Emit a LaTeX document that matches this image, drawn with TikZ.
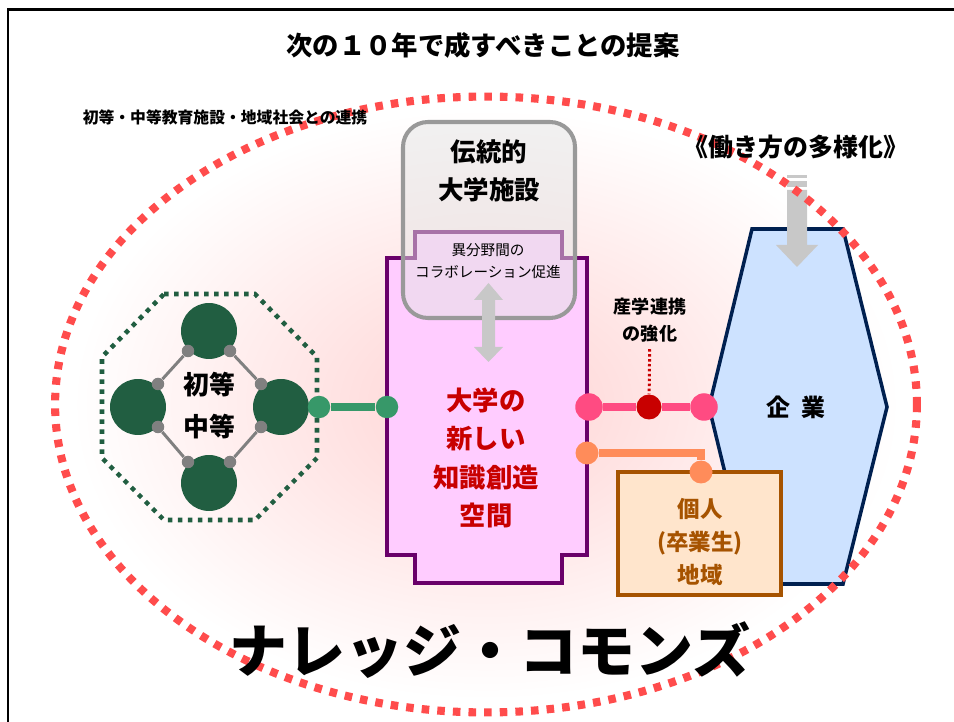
\documentclass[tikz,border=0pt]{standalone}
\usepackage{fontspec}
\setmainfont{Noto Sans CJK JP}
\usetikzlibrary{calc}
\definecolor{dotred}{RGB}{255,76,76}
\definecolor{leafgreen}{RGB}{33,94,65}
\definecolor{jointgray}{RGB}{128,128,128}
\definecolor{linkgreen}{RGB}{55,152,105}
\definecolor{linkpink}{RGB}{255,75,130}
\definecolor{deepred}{RGB}{200,0,0}
\definecolor{linkorange}{RGB}{255,140,90}
\definecolor{univpurple}{RGB}{106,0,106}
\definecolor{univfill}{RGB}{255,204,255}
\definecolor{oldgray}{RGB}{153,153,153}
\definecolor{arrowgray}{RGB}{200,200,200}
\definecolor{firmblue}{RGB}{205,226,255}
\definecolor{firmnavy}{RGB}{0,32,80}
\definecolor{alumbrown}{RGB}{166,83,0}
\definecolor{alumfill}{RGB}{255,229,204}
\definecolor{glowpink}{RGB}{255,220,220}
\newcommand\jp[2]{\bfseries\fontsize{#1}{#2}\selectfont}
\pgfdeclareradialshading{glow}{\pgfpoint{0bp}{0bp}}{color(0bp)=(glowpink); color(5bp)=(glowpink); color(24bp)=(white); color(50bp)=(white)}
\tikzset{
  ring/.style={dotred,line width=4.6pt,dash pattern=on 4.3pt off 4.6pt},
  octo/.style={leafgreen,line width=2.6pt,dash pattern=on 2.6pt off 3.1pt},
  ball/.style={circle,fill=leafgreen,inner sep=0pt,minimum size=1.12cm},
  joint/.style={circle,fill=jointgray,inner sep=0pt,minimum size=0.25cm},
  link/.style={jointgray,line width=1.7pt},
  knob/.style 2 args={circle,fill=#1,inner sep=0pt,minimum size=#2},
  txt/.style={inner sep=0pt,align=center}
}

\begin{document}
\begin{tikzpicture}[x=0.02cm,y=-0.02cm]
	%%%%% START %%%%%
	\useasboundingbox (0,0) rectangle (954,722);
	\draw[line width=1.7pt] (8,722) -- (8,10) -- (954,10);
	
	\node[txt,font=\jp{15}{18}] (title) at (483,45) {次の１０年で成すべきことの提案};
	
	\shade[shading=glow] (486,404.5) ellipse [x radius=8.62cm, y radius=6.16cm];
	
	% schools
	\draw[octo] (164,294) -- (255,294) -- (317,357) -- (317,458) -- (255,520) -- (164,520) -- (102,458) -- (102,357) -- cycle;
	\node[ball] (cN) at (209,331) {};
	\node[ball] (cW) at (138,407) {};
	\node[ball] (cE) at (281,407) {};
	\node[ball] (cS) at (209,483) {};
	\node[joint] (d1) at (188,351) {};
	\node[joint] (d2) at (230,351) {};
	\node[joint] (d3) at (261,384) {};
	\node[joint] (d4) at (261,427) {};
	\node[joint] (d5) at (230,462) {};
	\node[joint] (d6) at (188,462) {};
	\node[joint] (d7) at (158,427) {};
	\node[joint] (d8) at (158,384) {};
	\draw[link] (d1) -- (d8);
	\draw[link] (d2) -- (d3);
	\draw[link] (d4) -- (d5);
	\draw[link] (d6) -- (d7);
	\node[txt,font=\jp{14.7}{18}] (shoto) at (209,385) {初等};
	\node[txt,font=\jp{14.7}{18}] (chuto) at (209,427) {中等};
	
	% university
	\draw[univpurple,fill=univfill,line width=2.8pt] (387,258) -- (415,258) -- (415,232) -- (562,232) -- (562,258) -- (587,258) -- (587,555) -- (562,555) -- (562,583) -- (415,583) -- (415,555) -- (387,555) -- cycle;
	\draw[oldgray,line width=2.3pt,fill=black!10,fill opacity=0.5,rounded corners=0.5cm] (403,122) rectangle (575,318);
	\node[txt,font=\jp{14.5}{21.5}] (dento) at (489,171) {伝統的\\大学施設};
	\node[txt,font=\fontsize{8.3}{12.5}\selectfont] (collab) at (488,261) {異分野間の\\コラボレーション促進};
	\fill[arrowgray] (488.5,283) -- (503,300) -- (495,300) -- (495,347) -- (503,347) -- (488.5,362) -- (474,347) -- (482,347) -- (482,300) -- (474,300) -- cycle;
	\node[txt,font=\jp{15}{21.8},text=deepred] (chishiki) at (486,458) {大学の\\新しい\\知識創造\\空間};
	
	\node[knob={linkgreen}{0.45cm}] (gL) at (319,407) {};
	\node[knob={linkgreen}{0.45cm}] (gR) at (387,407) {};
	\draw[linkgreen,line width=4.5pt] (gL) -- (gR);
	
	% companies
	\draw[firmnavy,fill=firmblue,line width=2pt] (752,229) -- (843,229) -- (887,407) -- (843,584) -- (752,584) -- (709,407) -- cycle;
	\node[txt,font=\jp{13.6}{16}] (kigyo) at (796,407) {企\hspace{0.5em}業};
	\fill[arrowgray] (787,175) rectangle (807,178);
	\fill[arrowgray] (787,181) rectangle (807,187);
	\fill[arrowgray] (787,190) -- (807,190) -- (807,245) -- (818,245) -- (797,267) -- (776,245) -- (787,245) -- cycle;
	
	\node[txt,font=\jp{10.3}{15}] (sangaku) at (650,320) {産学連携\\の強化};
	\node[knob={linkpink}{0.55cm}] (pL) at (589,407) {};
	\node[knob={deepred}{0.5cm}] (pM) at (649,407) {};
	\node[knob={linkpink}{0.55cm}] (pR) at (704,407) {};
	\draw[linkpink,line width=4.5pt] (pL) -- (pM);
	\draw[linkpink,line width=4.5pt] (pM) -- (pR);
	\draw[deepred,line width=1.7pt,dash pattern=on 1.4pt off 1.4pt,shorten <=4pt] (sangaku) -- (pM);
	
	% alumni
	\draw[alumbrown,fill=alumfill,line width=2.5pt] (618,472) rectangle (781,595);
	\node[txt,font=\jp{12.8}{19},text=alumbrown] (kojin) at (700,542) {個人\\(卒業生)\\地域};
	\node[knob={linkorange}{0.46cm}] (oL) at (587,453) {};
	\node[knob={linkorange}{0.46cm}] (oR) at (701,472) {};
	\draw[linkorange,line width=4pt] (oL) -| (oR);
	
	\draw[ring] (486,404.5) ellipse [x radius=8.62cm, y radius=6.16cm];
	
	\node[txt,font=\jp{9}{11}] (renkei) at (225,117) {初等・中等教育施設・地域社会との連携};
	\node[txt,font=\jp{14.2}{16}] (tayo) at (796,147) {《働き方の多様化》};
	\node[txt,font=\jp{33}{36}] (commons) at (490,650) {ナレッジ・コモンズ};
	%%%%% END %%%%%
\end{tikzpicture}
\end{document}
